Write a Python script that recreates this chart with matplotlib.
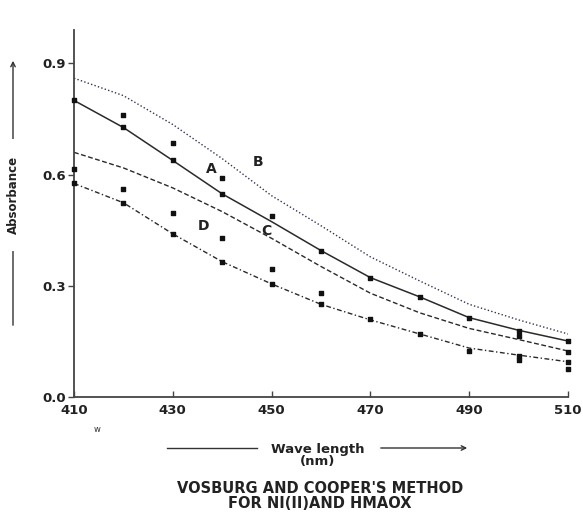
import matplotlib
matplotlib.use("Agg")
import matplotlib.pyplot as plt

# ---- data ----
wavelength = [410, 420, 430, 440, 450, 460, 470, 480, 490, 500, 510]
curve_A = [0.80, 0.727, 0.638, 0.548, 0.473, 0.395, 0.322, 0.270, 0.214, 0.180, 0.151]
curve_B = [0.86, 0.813, 0.735, 0.643, 0.543, 0.462, 0.378, 0.313, 0.250, 0.208, 0.170]
curve_C = [0.66, 0.618, 0.564, 0.500, 0.428, 0.352, 0.280, 0.227, 0.185, 0.155, 0.124]
curve_D = [0.576, 0.524, 0.440, 0.365, 0.305, 0.250, 0.208, 0.170, 0.132, 0.113, 0.095]

obs_x = [410, 410, 410,
         420, 420, 420, 420,
         430, 430, 430, 430,
         440, 440, 440, 440,
         450, 450, 450,
         460, 460, 460,
         470, 470,
         480, 480,
         490, 490,
         500, 500, 500, 500,
         510, 510, 510, 510]
obs_y = [0.80, 0.615, 0.576,
         0.762, 0.727, 0.562, 0.524,
         0.686, 0.638, 0.497, 0.440,
         0.592, 0.548, 0.430, 0.365,
         0.489, 0.346, 0.305,
         0.395, 0.281, 0.250,
         0.322, 0.210,
         0.270, 0.170,
         0.214, 0.124,
         0.178, 0.165, 0.110, 0.100,
         0.151, 0.122, 0.095, 0.076]

x_ticks = [410, 430, 450, 470, 490, 510]
y_ticks = [0.0, 0.3, 0.6, 0.9]
y_tick_labels = ["0.0", "0.3", "0.6", "0.9"]
curve_labels = ["A", "B", "C", "D"]
label_pos = [(437.7, 0.616), (447.2, 0.635), (449.0, 0.449), (436.3, 0.460)]

# ---- figure ----
W, H = 583, 514
fig = plt.figure(figsize=(W / 100, H / 100), dpi=100)
ax = fig.add_axes([74 / W, 1 - 397 / H, (568 - 74) / W, (397 - 30) / H])
ax.set_xlim(410, 510)
ax.set_ylim(0, 0.99)

ink = "#2a2a2a"
ax.plot(wavelength, curve_B, color="#333355", lw=1.0, ls=(0, (1, 1.6)))
ax.plot(wavelength, curve_A, color=ink, lw=1.1, ls="-")
ax.plot(wavelength, curve_C, color=ink, lw=1.0, ls=(0, (3.5, 1.8)))
ax.plot(wavelength, curve_D, color=ink, lw=1.0, ls=(0, (3.5, 1.8, 1, 1.8)))
ax.scatter(obs_x, obs_y, marker="s", s=7, color="#111111", zorder=5, clip_on=False)

for lab, (lx, ly) in zip(curve_labels, label_pos):
    ax.text(lx, ly, lab, fontsize=10, fontweight="bold", color="#222222",
            ha="center", va="center")

for s in ["top", "right"]:
    ax.spines[s].set_visible(False)
for s in ["left", "bottom"]:
    ax.spines[s].set_color("#444444")
    ax.spines[s].set_linewidth(1.3)

ax.set_xticks(x_ticks)
ax.set_xticklabels([str(v) for v in x_ticks], fontsize=9.5, fontweight="bold")
ax.set_yticks(y_ticks)
ax.set_yticklabels(y_tick_labels, fontsize=9.5, fontweight="bold")
ax.tick_params(axis="x", direction="in", length=4, width=1, colors="#444444",
               labelcolor="#222222", pad=5)
ax.tick_params(axis="y", direction="out", length=4, width=1, colors="#444444",
               labelcolor="#222222", pad=2)

# small "w" under 410
fig.text(97 / W, 1 - 430 / H, "w", fontsize=6, ha="center", va="center", color="#333333")

# x label with arrow lines
fig.text(318 / W, 1 - 455 / H, "Wave length\n(nm)", fontsize=9.5, fontweight="bold",
         ha="center", va="center", linespacing=0.9, color="#222222")
fig.add_artist(plt.Line2D([167 / W, 257 / W], [1 - 448 / H, 1 - 448 / H],
                          color="#333333", lw=1))
fig.add_artist(matplotlib.patches.FancyArrowPatch(
    (378 / W, 1 - 448 / H), (470 / W, 1 - 448 / H), transform=fig.transFigure,
    arrowstyle="->", mutation_scale=8, color="#333333", lw=1))

# title below
fig.text(320 / W, 1 - 496 / H, "VOSBURG AND COOPER'S METHOD\nFOR NI(II)AND HMAOX",
         fontsize=10.5, fontweight="bold", ha="center", va="center",
         linespacing=0.95, color="#222222")

# y label with arrow
fig.add_artist(matplotlib.patches.FancyArrowPatch(
    (13 / W, 1 - 328 / H), (13 / W, 1 - 58 / H), transform=fig.transFigure,
    arrowstyle="->", mutation_scale=8, color="#333333", lw=1))
fig.text(13 / W, 1 - 195 / H, "Absorbance", fontsize=8.5, fontweight="bold",
         rotation=90, ha="center", va="center", color="#222222",
         bbox=dict(facecolor="white", edgecolor="none", pad=12))

fig.savefig("out.png", dpi=100)
